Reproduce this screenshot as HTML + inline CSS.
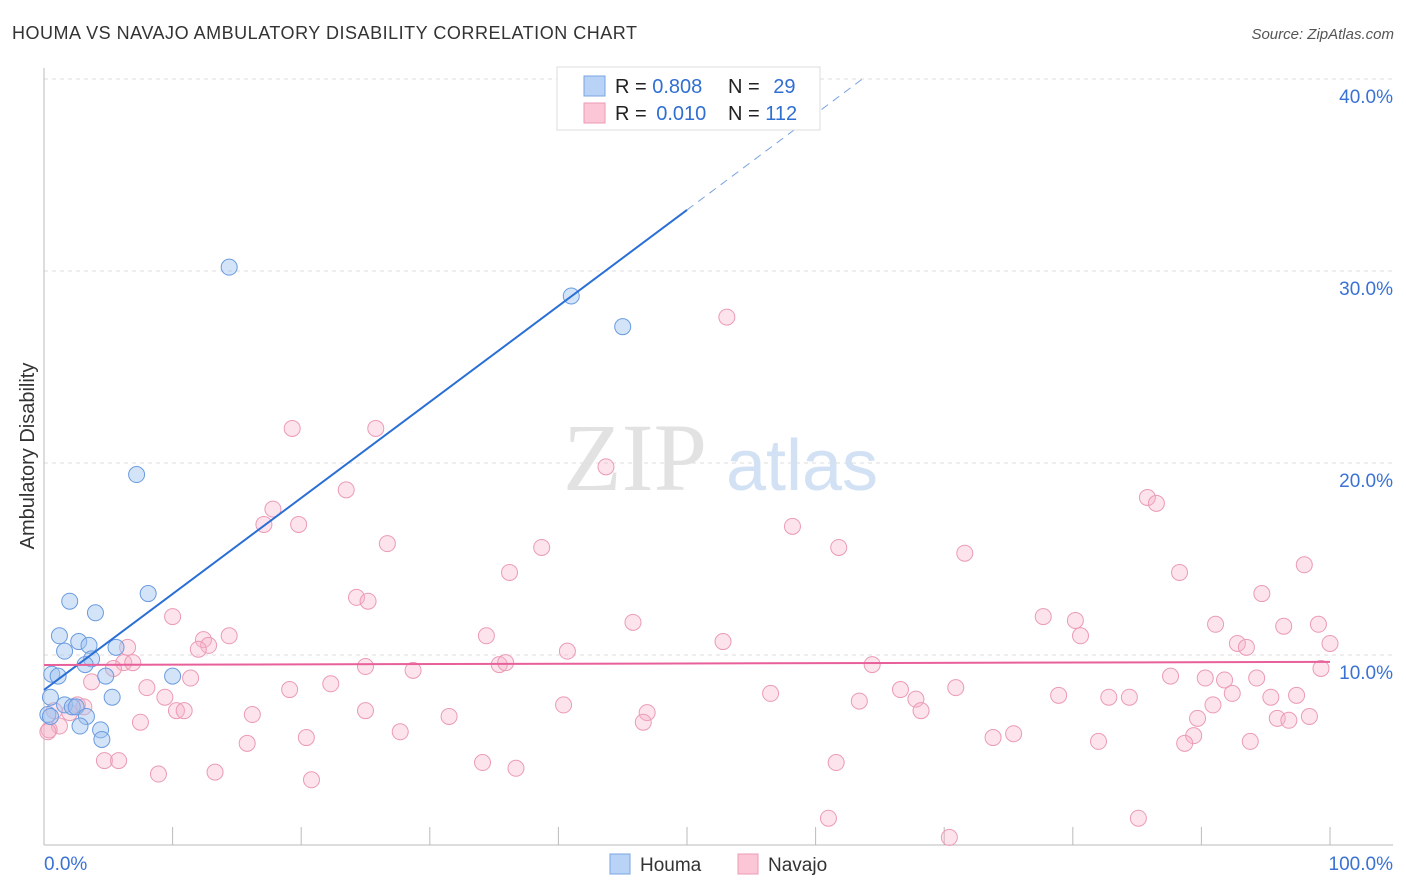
<!DOCTYPE html>
<html><head><meta charset="utf-8">
<style>
body{margin:0;background:#fff;font-family:"Liberation Sans",sans-serif;}
svg{display:block}
</style></head>
<body>
<svg id="chart" width="1406" height="892" viewBox="0 0 1406 892">
<text x="12" y="39" font-size="18" fill="#333" textLength="625">HOUMA VS NAVAJO AMBULATORY DISABILITY CORRELATION CHART</text>
<text x="1394" y="39" font-size="15" fill="#555" font-style="italic" text-anchor="end">Source: ZipAtlas.com</text>
<text x="34" y="456" font-size="20" fill="#333" text-anchor="middle" transform="rotate(-90 34 456)">Ambulatory Disability</text>
<g id="grid"></g>
<g>
<text x="635" y="490" font-size="96" fill="#e2e2e2" font-family="Liberation Serif,serif" text-anchor="middle">ZIP</text>
<text x="802" y="490" font-size="72" fill="#d3e1f5" text-anchor="middle">atlas</text>
</g>
<g id="marks"></g>
<g>
<rect x="557" y="67" width="263" height="63" fill="#fff" stroke="#ddd"/>
<rect x="584" y="76" width="21" height="20" fill="#b8d3f5" stroke="#7aa6e2"/>
<rect x="584" y="103" width="21" height="20" fill="#fbc7d6" stroke="#ec9ab4"/>
<text x="615" y="93" font-size="20" fill="#222">R = <tspan fill="#2f6fd2">0.808</tspan></text>
<text x="728" y="93" font-size="20" fill="#222">N = <tspan fill="#2f6fd2" dx="8">29</tspan></text>
<text x="615" y="120" font-size="20" fill="#222">R = <tspan fill="#2f6fd2" dx="4">0.010</tspan></text>
<text x="728" y="120" font-size="20" fill="#222">N = <tspan fill="#2f6fd2">112</tspan></text>
</g>
<g>
<rect x="610" y="854" width="20" height="20" fill="#b8d3f5" stroke="#7aa6e2"/>
<text x="640" y="871" font-size="19" fill="#333">Houma</text>
<rect x="738" y="854" width="20" height="20" fill="#fbc7d6" stroke="#ec9ab4"/>
<text x="768" y="871" font-size="19" fill="#333">Navajo</text>
</g>
</svg>
<script>
const xTickValues=[0,10,20,30,40,50,60,70,80,90,100];
const yTickValues=[10,20,30,40];
const yTickLabels=["10.0%","20.0%","30.0%","40.0%"];
const houmaX=[14.4,41.0,45.0,7.2,8.1,2.0,4.0,1.2,2.7,3.5,5.6,1.6,3.7,3.2,0.6,1.1,10.0,4.8,5.3,0.5,1.6,2.2,2.5,0.3,3.3,2.8,4.4,4.5,0.5];
const houmaY=[30.2,28.7,27.1,19.4,13.2,12.8,12.2,11.0,10.7,10.5,10.4,10.2,9.8,9.5,9.0,8.9,8.9,8.9,7.8,7.8,7.4,7.3,7.3,6.9,6.8,6.3,6.1,5.6,6.8];
const navajoX=[53.1,19.3,25.8,43.7,23.5,17.8,17.1,19.8,58.2,85.8,86.5,26.7,38.7,61.8,71.6,98.0,36.2,88.3,24.3,25.2,94.7,10.0,77.7,45.8,80.2,91.1,96.4,99.1,14.4,34.4,80.6,12.4,52.8,92.8,100.0,12.8,93.5,6.5,12.0,40.7,6.2,6.9,35.4,35.9,64.4,25.0,5.4,28.7,99.3,3.7,11.4,87.6,90.3,91.8,94.3,22.3,8.0,19.1,66.6,70.9,56.5,92.4,9.4,78.9,82.8,84.4,95.4,97.4,63.4,67.8,2.6,3.1,40.4,90.9,10.3,10.9,25.0,68.2,46.9,0.8,16.2,31.5,98.4,89.7,95.9,96.8,7.5,46.6,1.2,0.4,27.7,20.4,75.4,73.8,89.4,15.8,82.0,93.8,88.7,4.7,5.8,34.1,61.6,36.7,8.9,13.3,20.8,61.0,85.1,70.4,0.3,2.0];
const navajoY=[27.6,21.8,21.8,19.8,18.6,17.6,16.8,16.8,16.7,18.2,17.9,15.8,15.6,15.6,15.3,14.7,14.3,14.3,13.0,12.8,13.2,12.0,12.0,11.7,11.8,11.6,11.5,11.6,11.0,11.0,11.0,10.8,10.7,10.6,10.6,10.5,10.4,10.4,10.3,10.2,9.6,9.6,9.5,9.6,9.5,9.4,9.3,9.2,9.3,8.6,8.8,8.9,8.8,8.7,8.8,8.5,8.3,8.2,8.2,8.3,8.0,8.0,7.8,7.9,7.8,7.8,7.8,7.9,7.6,7.7,7.4,7.3,7.4,7.4,7.1,7.1,7.1,7.1,7.0,7.1,6.9,6.8,6.8,6.7,6.7,6.6,6.5,6.5,6.3,6.1,6.0,5.7,5.9,5.7,5.8,5.4,5.5,5.5,5.4,4.5,4.5,4.4,4.4,4.1,3.8,3.9,3.5,1.5,1.5,0.5,6.0,7.0];
const houmaTrend=[8.18,0.5];
const navajoTrend=[9.48,0.0016];
const NS="http://www.w3.org/2000/svg";
const X0=44,X1=1330,Y0=847,PX=19.2;
const xs=v=>X0+(X1-X0)*v/100;
const ys=v=>Y0-v*PX;
function el(tag,attrs,parent){const e=document.createElementNS(NS,tag);for(const k in attrs)e.setAttribute(k,attrs[k]);parent.appendChild(e);return e;}
const grid=document.getElementById('grid');
const marks=document.getElementById('marks');
yTickValues.forEach((v,i)=>{
  const l=el('line',{x1:X0,x2:1393,y1:ys(v),y2:ys(v),stroke:'#ddd','stroke-dasharray':'4,4'},grid);
  
  
  const t=el('text',{x:1393,y:ys(v)+24,'font-size':19,fill:'#3a72d4','text-anchor':'end'},grid);
  t.textContent=yTickLabels[i];
  
  
});
const ax=el('line',{x1:X0,x2:1393,y1:Y0-2,y2:Y0-2,stroke:'#bbb'},grid);


const ay=el('line',{x1:X0,x2:X0,y1:68,y2:Y0-2,stroke:'#bbb'},grid);


xTickValues.forEach(v=>{
  const t=el('line',{x1:xs(v),x2:xs(v),y1:827,y2:Y0-2,stroke:'#bbb'},grid);
  
  
});
const xl0=el('text',{x:44,y:870,'font-size':19,fill:'#3a72d4'},grid);xl0.textContent='0.0%';


const xl1=el('text',{x:1393,y:870,'font-size':19,fill:'#3a72d4','text-anchor':'end'},grid);xl1.textContent='100.0%';


navajoX.forEach((x,i)=>{
  const c=el('circle',{cx:xs(x),cy:ys(navajoY[i]),r:8,fill:'rgba(247,176,200,0.35)',stroke:'#eb9bb6','stroke-width':1},marks);
  
  
});
houmaX.forEach((x,i)=>{
  const c=el('circle',{cx:xs(x),cy:ys(houmaY[i]),r:8,fill:'rgba(160,196,240,0.45)',stroke:'#6a9be0','stroke-width':1},marks);
  
  
});
const hy=x=>houmaTrend[0]+houmaTrend[1]*x;
const ht=el('line',{x1:xs(0),y1:ys(hy(0)),x2:xs(50),y2:ys(hy(50)),stroke:'#2a6fd6','stroke-width':2},marks);


const xe=(40-houmaTrend[0])/houmaTrend[1];
const hd=el('line',{x1:xs(50),y1:ys(hy(50)),x2:xs(xe),y2:ys(40),stroke:'#7aa3e0','stroke-width':1,'stroke-dasharray':'8,6'},marks);


const ny=x=>navajoTrend[0]+navajoTrend[1]*x;
const nt=el('line',{x1:xs(0),y1:ys(ny(0)),x2:xs(100),y2:ys(ny(100)),stroke:'#e8609a','stroke-width':2},marks);


</script>
</body></html>
